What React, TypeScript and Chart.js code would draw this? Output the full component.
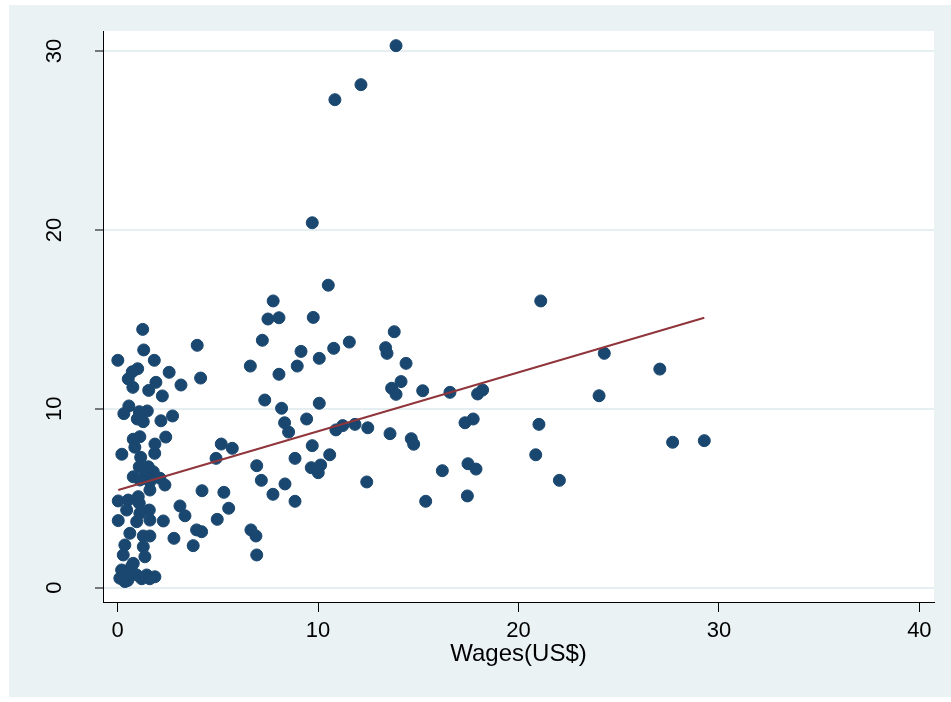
import React, { useEffect, useRef } from "react";
import { Chart, registerables } from "chart.js";

Chart.register(...registerables);

// Wages (US$) on x, value on y
const wagesX: number[] = [
  1.25, 1.30, 3.97, 0.01, 1.83, 1.00, 0.73, 0.53, 2.57, 4.14,
  1.91, 3.16, 0.76, 1.55, 2.23, 0.56, 0.31, 1.08, 1.48, 1.28,
  0.98, 2.16, 2.74, 1.11, 0.78, 0.86, 2.40, 1.86, 0.21, 1.15,
  1.85, 1.08, 1.53, 1.78, 1.36, 0.78, 1.11, 1.61, 2.11, 2.36,
  1.61, 4.21, 0.03, 0.53, 1.03, 1.08, 0.45, 3.11, 3.36, 1.58,
  0.03, 0.95, 1.61, 2.28, 1.11, 0.61, 1.28, 1.61, 2.81, 3.94,
  4.19, 3.77, 0.36, 0.28, 1.28, 1.36, 0.78, 0.20, 0.11, 0.36,
  0.61, 0.95, 1.45, 1.86, 0.50, 1.20, 1.60, 0.70,
  10.51, 7.76, 7.50, 8.05, 9.76, 13.80, 7.22, 9.15, 10.78, 11.56,
  13.37, 13.44, 10.06, 8.96, 6.62, 8.05, 7.34, 8.18, 10.06, 9.43,
  8.33, 8.53, 10.89, 11.23, 11.84, 12.48, 13.59, 5.17, 5.72, 4.91,
  9.71, 10.58, 8.85, 6.94, 9.66, 10.13, 10.01, 5.30, 7.17, 8.35,
  12.43, 7.75, 8.85, 5.54, 4.97, 6.65, 6.90, 6.94,
  13.89, 12.14, 10.84, 9.71,
  21.11, 14.39, 14.14, 13.67, 13.89, 15.22, 16.58, 17.96, 18.21, 24.28,
  27.05, 24.02, 14.65, 14.77, 17.33, 17.74, 21.02, 27.69, 29.27, 20.86,
  16.20, 17.48, 17.88, 22.04, 15.37, 17.45,
];

const valuesY: number[] = [
  14.44, 13.29, 13.55, 12.71, 12.71, 12.24, 12.07, 11.67, 12.04, 11.72,
  11.48, 11.33, 11.20, 11.03, 10.72, 10.16, 9.73, 9.84, 9.88, 9.28,
  9.43, 9.33, 9.60, 8.44, 8.30, 7.85, 8.42, 8.03, 7.46, 7.29,
  7.51, 6.76, 6.76, 6.48, 6.30, 6.20, 6.02, 5.93, 6.12, 5.74,
  5.46, 5.42, 4.85, 4.90, 5.09, 4.72, 4.34, 4.57, 4.02, 4.34,
  3.75, 3.69, 3.78, 3.73, 4.16, 3.04, 2.89, 2.89, 2.76, 3.23,
  3.13, 2.35, 2.39, 1.83, 2.29, 1.73, 1.36, 0.99, 0.53, 0.34,
  0.71, 0.71, 0.71, 0.61, 0.40, 0.50, 0.50, 1.20,
  16.91, 16.03, 15.02, 15.09, 15.11, 14.31, 13.83, 13.21, 13.38, 13.73,
  13.42, 13.10, 12.82, 12.39, 12.39, 11.93, 10.49, 10.03, 10.31, 9.43,
  9.22, 8.70, 8.82, 9.06, 9.13, 8.94, 8.61, 8.03, 7.79, 7.23,
  7.94, 7.43, 7.23, 6.82, 6.71, 6.86, 6.43, 5.33, 6.00, 5.80,
  5.91, 5.22, 4.83, 4.44, 3.82, 3.23, 2.89, 1.83,
  30.30, 28.12, 27.28, 20.40,
  16.03, 12.54, 11.52, 11.15, 10.81, 11.01, 10.92, 10.83, 11.05, 13.10,
  12.22, 10.73, 8.33, 8.02, 9.22, 9.43, 9.13, 8.13, 8.22, 7.43,
  6.54, 6.93, 6.63, 6.00, 4.83, 5.13,
];

// Fitted line end points
const fitX: number[] = [0.03, 29.27];
const fitY: number[] = [5.46, 15.09];

const xTicks: number[] = [0, 10, 20, 30, 40];
const yTicks: number[] = [0, 10, 20, 30];
const xTitle = "Wages(US$)";

const FONT = "'Liberation Sans', Arial, Helvetica, sans-serif";

const bgPlugin = {
  id: "stataBg",
  beforeDraw(chart: any) {
    const { ctx, chartArea } = chart;
    ctx.save();
    ctx.fillStyle = "#ffffff";
    ctx.fillRect(0, 0, chart.width, chart.height);
    ctx.fillStyle = "#eaf2f3";
    ctx.fillRect(9, 5, chart.width - 9, 692);
    ctx.fillStyle = "#ffffff";
    ctx.fillRect(
      chartArea.left,
      chartArea.top,
      chartArea.right - chartArea.left,
      chartArea.bottom - chartArea.top
    );
    ctx.restore();
  },
};

export default function App() {
  const ref = useRef<HTMLCanvasElement | null>(null);

  useEffect(() => {
    if (!ref.current) return;
    const points = wagesX.map((x, i) => ({ x, y: valuesY[i] }));
    const fit = fitX.map((x, i) => ({ x, y: fitY[i] }));
    const chart = new Chart(ref.current, {
      type: "scatter",
      data: {
        datasets: [
          {
            type: "line",
            data: fit,
            borderColor: "#90353b",
            borderWidth: 2,
            pointRadius: 0,
            fill: false,
            showLine: true,
          } as any,
          {
            data: points,
            backgroundColor: "#1a476f",
            borderColor: "#1a476f",
            borderWidth: 1,
            pointRadius: 6,
          },
        ],
      },
      options: {
        animation: false,
        responsive: false,
        devicePixelRatio: 1,
        layout: { padding: { left: 9, right: 17, top: 31, bottom: 5 } },
        plugins: {
          legend: { display: false },
          tooltip: { enabled: false },
        },
        scales: {
          x: {
            type: "linear",
            min: -0.73,
            max: 40.73,
            afterBuildTicks: (s: any) => {
              s.ticks = xTicks.map((v) => ({ value: v }));
            },
            afterFit: (s: any) => {
              s.height = 95;
              s.paddingLeft = 0;
              s.paddingRight = 0;
            },
            border: { display: true, color: "#000", width: 1 },
            grid: {
              drawOnChartArea: false,
              drawTicks: true,
              tickLength: 10,
              tickColor: "#000",
              tickWidth: 1,
            },
            ticks: {
              color: "#000",
              font: { family: FONT, size: 22 },
              padding: 6,
              maxRotation: 0,
              minRotation: 0,
            },
            title: {
              display: true,
              text: xTitle,
              color: "#000",
              font: { family: FONT, size: 24 },
              padding: { top: 0, bottom: 28 },
            },
          },
          y: {
            type: "linear",
            min: -0.8,
            max: 31.12,
            afterBuildTicks: (s: any) => {
              s.ticks = yTicks.map((v) => ({ value: v }));
            },
            afterFit: (s: any) => {
              s.width = 94;
              s.paddingTop = 0;
              s.paddingBottom = 0;
            },
            border: { display: true, color: "#000", width: 1 },
            grid: {
              color: "#e5eef0",
              lineWidth: 2,
              drawTicks: true,
              tickLength: 8,
              tickColor: "#000",
              tickWidth: 1,
            },
            ticks: {
              color: "#000",
              font: { family: FONT, size: 22 },
              minRotation: 90,
              maxRotation: 90,
              crossAlign: "center",
              padding: 28,
            },
          },
        },
      },
      plugins: [bgPlugin],
    });
    return () => chart.destroy();
  }, []);

  return (
    <div style={{ position: "absolute", left: 0, top: 0, width: 951, height: 702 }}>
      <canvas ref={ref} width={951} height={702} style={{ display: "block" }} />
    </div>
  );
}
